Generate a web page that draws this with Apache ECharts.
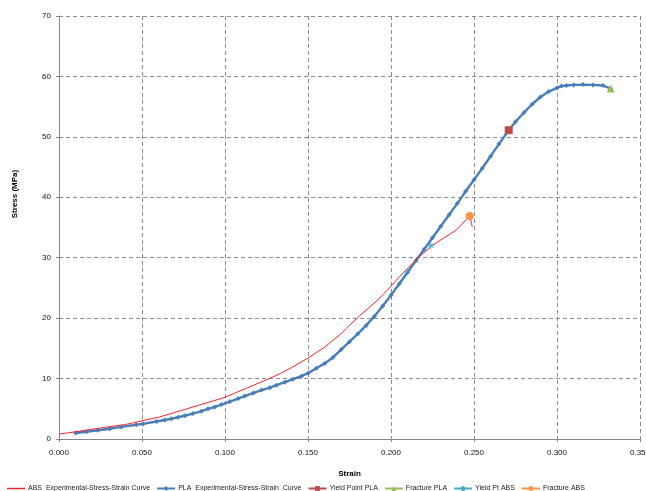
<!DOCTYPE html>
<html>
<head>
<meta charset="utf-8">
<script src="https://cdn.jsdelivr.net/npm/echarts@6/dist/echarts.min.js"></script>
<style>html,body{margin:0;padding:0;background:#fff}#c{width:646px;height:491px}</style>
</head>
<body>
<div id="c"></div>
<script>
// ABS experimental curve
const strainABS = [0.000,0.010,0.0245,0.040,0.050,0.060,0.0747,0.085,0.100,0.1129,0.1267,0.133,0.140,0.150,0.160,0.169,0.1731,0.1811,0.1932,0.200,0.2052,0.2163,0.2253,0.2320,0.2394,0.2454,0.2474,0.2485,0.2490];
const stressABS = [0.8,1.2,1.8,2.4,3.0,3.6,4.8,5.65,6.9,8.4,10.0,10.8,11.8,13.4,15.2,17.2,18.3,20.4,23.3,25.3,26.9,30.0,32.1,33.3,34.6,36.3,36.9,35.6,35.1];
// PLA experimental curve
const strainPLA = [0.0101,0.0165,0.0235,0.0305,0.0376,0.0466,0.0506,0.0587,0.0637,0.0677,0.0717,0.0757,0.0807,0.0858,0.0898,0.0938,0.0979,0.1029,0.1079,0.1119,0.117,0.122,0.127,0.131,0.136,0.141,0.146,0.150,0.155,0.160,0.165,0.170,0.175,0.180,0.185,0.190,0.195,0.200,0.205,0.210,0.215,0.220,0.225,0.230,0.235,0.240,0.245,0.250,0.255,0.260,0.265,0.2709,0.275,0.280,0.285,0.290,0.295,0.300,0.3027,0.3057,0.310,0.3157,0.3217,0.3277,0.3323];
const stressPLA = [1.0,1.2,1.45,1.7,2.0,2.35,2.5,2.9,3.15,3.35,3.6,3.85,4.2,4.6,5.0,5.3,5.7,6.2,6.7,7.1,7.6,8.1,8.5,8.9,9.4,9.9,10.4,10.9,11.7,12.5,13.5,14.8,16.1,17.4,18.8,20.3,22.0,23.8,25.7,27.6,29.5,31.4,33.3,35.2,37.1,39.0,41.0,42.9,44.8,46.8,48.8,51.1,52.5,54.0,55.4,56.6,57.5,58.1,58.4,58.5,58.6,58.65,58.6,58.5,58.0];
// single points
const yieldPointPLA = [0.2709, 51.1];
const fracturePLA = [0.3323, 58.0];
const yieldPtABS = [0.224, 32.0];
const fractureABS = [0.2474, 36.9];
// axis ticks
const xTicks = {min: 0, max: 0.35, step: 0.05};
const yTicks = {min: 0, max: 70, step: 10};

const zip = (a, b) => a.map((v, i) => [v, b[i]]);
const FONT = '"Liberation Sans", Arial, sans-serif';
const grid = '#8c8c8c';

const chart = echarts.init(document.getElementById('c'), null, {renderer: 'canvas'});
chart.setOption({
  animation: false,
  backgroundColor: '#fff',
  textStyle: {fontFamily: FONT},
  grid: {left: 59, right: 6, top: 16, bottom: 52, containLabel: false, outerBoundsMode: 'none'},
  xAxis: {
    type: 'value', min: xTicks.min, max: xTicks.max, interval: xTicks.step,
    name: 'Strain', nameLocation: 'middle', nameGap: 31,
    nameTextStyle: {fontSize: 8, fontWeight: 'bold', color: '#000', fontFamily: FONT},
    axisLine: {show: true, lineStyle: {color: '#868686', width: 1}},
    axisTick: {show: true, length: 3, lineStyle: {color: '#868686'}},
    axisLabel: {fontSize: 8, color: '#111', margin: 10, formatter: v => v.toFixed(3)},
    splitLine: {show: true, lineStyle: {color: grid, type: [4, 3], width: 1}}
  },
  yAxis: {
    type: 'value', min: yTicks.min, max: yTicks.max, interval: yTicks.step,
    axisLine: {show: true, lineStyle: {color: '#868686', width: 1}},
    axisTick: {show: true, length: 3, lineStyle: {color: '#868686'}},
    axisLabel: {fontSize: 8, color: '#111', margin: 8},
    splitLine: {show: true, lineStyle: {color: grid, type: [4, 3], width: 1}}
  },
  legend: {
    left: 2, top: 480, itemWidth: 18, itemHeight: 6, itemGap: 6,
    textStyle: {fontSize: 7, color: '#222', fontFamily: FONT, padding: [0, 0, 0, -2]},
    data: [
      {name: 'ABS_Experimental-Stress-Strain Curve', icon: 'path://M0,0L20,0L20,1.6L0,1.6Z', itemStyle: {color: '#f0262a'}},
      'PLA_Experimental-Stress-Strain  Curve', 'Yield Point PLA', 'Fracture PLA', 'Yield Pt ABS', 'Fracture ABS']
  },
  graphic: [{
    type: 'text', x: 15, y: 194, rotation: Math.PI / 2,
    style: {text: 'Stress (MPa)', fontSize: 8, fontWeight: 'bold', fill: '#000', font: 'bold 8px ' + FONT, textAlign: 'center', textVerticalAlign: 'middle'}
  }],
  series: [
    {
      name: 'ABS_Experimental-Stress-Strain Curve', type: 'line', data: zip(strainABS, stressABS),
      showSymbol: false, symbol: 'none', lineStyle: {color: '#f0262a', width: 1}, itemStyle: {color: '#f0262a'}, z: 3
    },
    {
      name: 'PLA_Experimental-Stress-Strain  Curve', type: 'line', data: zip(strainPLA, stressPLA),
      symbol: 'diamond', symbolSize: 5, showAllSymbol: true,
      lineStyle: {color: '#4a7ebb', width: 2.4}, itemStyle: {color: '#4a7ebb'}, z: 2
    },
    {
      name: 'Yield Point PLA', type: 'line', data: [yieldPointPLA], symbol: 'rect', symbolSize: 8,
      lineStyle: {color: '#be4b48', width: 1.5}, itemStyle: {color: '#be4b48'}, z: 5
    },
    {
      name: 'Fracture PLA', type: 'line', data: [fracturePLA], symbol: 'triangle', symbolSize: 8,
      lineStyle: {color: '#9bbb59', width: 1.5}, itemStyle: {color: '#9bbb59'}, z: 5
    },
    {
      name: 'Yield Pt ABS', type: 'line', data: [yieldPtABS],
      symbol: 'path://M0,5L10,5M5,0L5,10M1.5,1.5L8.5,8.5M8.5,1.5L1.5,8.5', symbolSize: 7,
      lineStyle: {color: '#4bacc6', width: 1.5}, itemStyle: {color: 'rgba(0,0,0,0)', borderColor: '#4bacc6', borderWidth: 1}, z: 5
    },
    {
      name: 'Fracture ABS', type: 'line', data: [fractureABS], symbol: 'circle', symbolSize: 8,
      lineStyle: {color: '#f79646', width: 1.5}, itemStyle: {color: '#f79646'}, z: 5
    }
  ]
});
</script>
</body>
</html>
